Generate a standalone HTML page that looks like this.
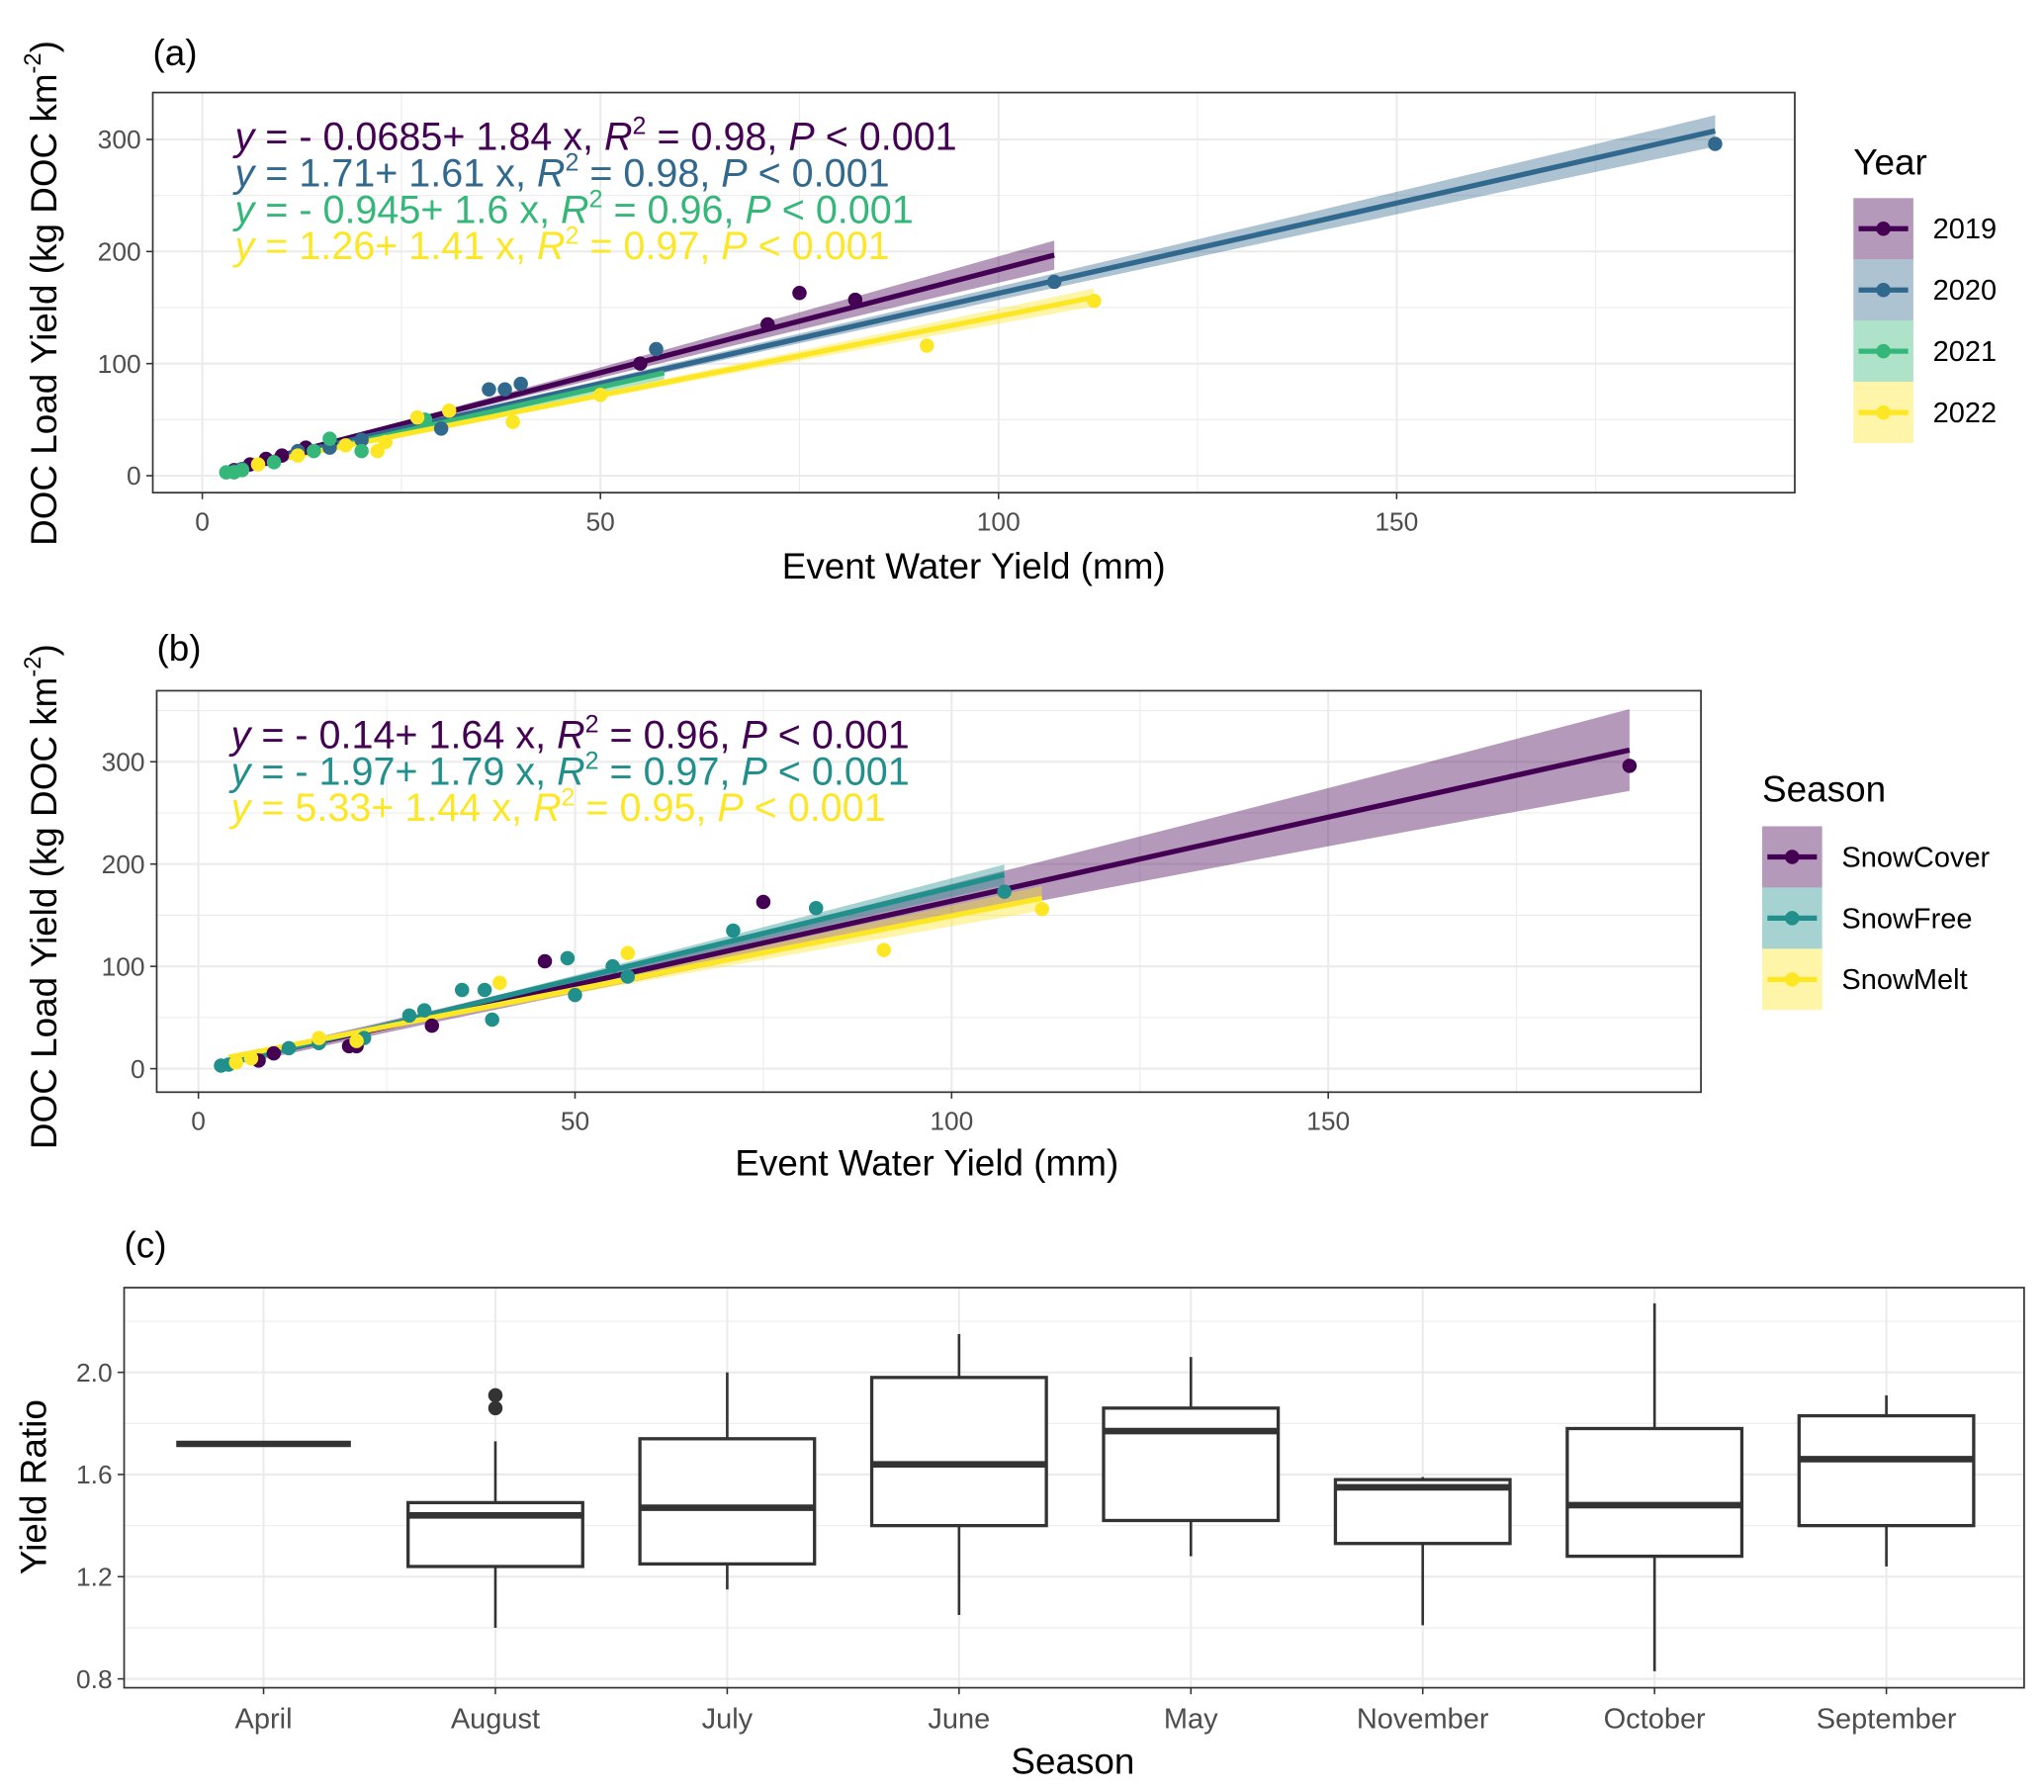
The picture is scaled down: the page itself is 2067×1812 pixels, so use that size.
<!DOCTYPE html>
<html><head><meta charset="utf-8"><style>
html,body{margin:0;padding:0;background:#fff}
svg{display:block;font-family:"Liberation Sans",Arial,sans-serif}
</style></head><body>
<svg id="fig" width="2067" height="1812" viewBox="0 0 1568 1375" xmlns="http://www.w3.org/2000/svg"></svg>
<script>
// ---------- data ----------
const yearNames = ['2019','2020','2021','2022'];
const yearColors = ['#440154','#31688E','#35B779','#FDE725'];
const yearIntercepts = [-0.0685, 1.71, -0.945, 1.26];
const yearSlopes = [1.84, 1.61, 1.6, 1.41];
const yearRanges = [[5,107],[4,190],[3,58],[5,112]];
const yearBand = [13, 14, 6, 8];
const yearEq = ['y = - 0.0685+ 1.84 x, |R2| = 0.98, P < 0.001','y = 1.71+ 1.61 x, |R2| = 0.98, P < 0.001','y = - 0.945+ 1.6 x, |R2| = 0.96, P < 0.001','y = 1.26+ 1.41 x, |R2| = 0.97, P < 0.001'];
const pts2019 = [[75,163],[82,157],[71,135],[55,100],[10,18],[13,25],[8,15],[6,10],[4,5],[16,28]];
const pts2020 = [[190,296],[107,173],[57,113],[40,82],[36,77],[38,77],[30,42],[16,25],[5,6],[4,4],[12,22],[20,32]];
const pts2021 = [[4,3],[16,33],[20,22],[5,5],[9,12],[3,3],[14,22],[28,50]];
const pts2022 = [[112,156],[91,116],[39,48],[50,72],[27,52],[31,58],[22,22],[23,30],[7,10],[12,18],[18,27]];
const seasonNames = ['SnowCover','SnowFree','SnowMelt'];
const seasonColors = ['#440154','#21908C','#FDE725'];
const seasonIntercepts = [-0.14, -1.97, 5.33];
const seasonSlopes = [1.64, 1.79, 1.44];
const seasonRanges = [[8,190],[3,107],[4,112]];
const seasonBand = [40, 10, 12];
const seasonEq = ['y = - 0.14+ 1.64 x, |R2| = 0.96, P < 0.001','y = - 1.97+ 1.79 x, |R2| = 0.97, P < 0.001','y = 5.33+ 1.44 x, |R2| = 0.95, P < 0.001'];
const ptsCover = [[190,296],[75,163],[46,105],[31,42],[20,22],[21,22],[10,15],[8,8]];
const ptsFree = [[82,157],[107,173],[71,135],[49,108],[55,100],[50,72],[39,48],[35,77],[38,77],[30,57],[28,52],[22,30],[16,25],[12,20],[4,4],[3,3],[57,90]];
const ptsMelt = [[112,156],[91,116],[57,113],[40,84],[21,27],[16,30],[7,10],[5,6]];
const xTicks = [0,50,100,150];
const yTicks = [0,100,200,300];
const months = ['April','August','July','June','May','November','October','September'];
const boxLow = [1.72,1.00,1.15,1.05,1.28,1.01,0.83,1.24];
const boxQ1 = [1.72,1.24,1.25,1.40,1.42,1.33,1.28,1.40];
const boxMed = [1.72,1.44,1.47,1.64,1.77,1.55,1.48,1.66];
const boxQ3 = [1.72,1.49,1.74,1.98,1.86,1.58,1.78,1.83];
const boxHigh = [1.72,1.73,2.00,2.15,2.06,1.59,2.27,1.91];
const boxOutliers = [[],[1.86,1.91],[],[],[],[],[],[]];
const ratioTicks = [0.8,1.2,1.6,2.0];

// ---------- helpers ----------
const NS='http://www.w3.org/2000/svg';
const svg=document.getElementById('fig');
function mk(tag,attrs,parent){const e=document.createElementNS(NS,tag);for(const k in attrs)e.setAttribute(k,attrs[k]);(parent||svg).appendChild(e);return e;}
function txt(s,x,y,size,fill,anchor,parent){const t=mk('text',{x:x,y:y,'font-size':size,fill:fill,'text-anchor':anchor||'start'},parent);t.textContent=s;return t;}

function scatterPanel(P){
  const g=mk('g',{});
  
  
  const X=v=>P.x0+v*P.sx, Y=v=>P.y0-v*P.sy;
  const bg=mk('rect',{x:P.L,y:P.T,width:P.R-P.L,height:P.B-P.T,fill:'#fff'},g);
  
  
  for(let v=-25;v<=200;v+=25){const xx=X(v);if(xx<P.L||xx>P.R)continue;const l=mk('line',{x1:xx,x2:xx,y1:P.T,y2:P.B,stroke:'#ebebeb','stroke-width':v%50===0?1.6:0.8},g);}
  for(let v=-50;v<=350;v+=50){const yy=Y(v);if(yy<P.T||yy>P.B)continue;const l=mk('line',{x1:P.L,x2:P.R,y1:yy,y2:yy,stroke:'#ebebeb','stroke-width':v%100===0?1.6:0.8},g);}
  for(let i=0;i<P.names.length;i++){
    const [a,b]=P.ranges[i];const f=v=>P.ic[i]+P.sl[i]*v;
    const hw=v=>{const t=(v-a)/(b-a);return P.band[i]*(0.12+0.88*Math.pow(t,1.6));};
    const n=30;let up=[],dn=[];
    for(let k=0;k<=n;k++){const v=a+(b-a)*k/n;up.push(X(v)+','+Y(f(v)+hw(v)));dn.unshift(X(v)+','+Y(f(v)-hw(v)));}
    const r=mk('polygon',{points:up.concat(dn).join(' '),fill:P.colors[i],'fill-opacity':0.4},g);
    
    
  }
  for(let i=0;i<P.names.length;i++){
    const [a,b]=P.ranges[i];const f=v=>P.ic[i]+P.sl[i]*v;
    const l=mk('line',{x1:X(a),y1:Y(f(a)),x2:X(b),y2:Y(f(b)),stroke:P.colors[i],'stroke-width':4},g);
    
    
  }
  for(let i=0;i<P.names.length;i++){
    for(const p of P.pts[i]){const c=mk('circle',{cx:X(p[0]),cy:Y(p[1]),r:5.5,fill:P.colors[i]},g);
      
      }
  }
  const fr=mk('rect',{x:P.L,y:P.T,width:P.R-P.L,height:P.B-P.T,fill:'none',stroke:'#333','stroke-width':1.3},g);
  
  for(const v of xTicks){mk('line',{x1:X(v),x2:X(v),y1:P.B,y2:P.B+5,stroke:'#333','stroke-width':1.2},g);const t=txt(String(v),X(v),P.B+29,20,'#4d4d4d','middle',g);}
  for(const v of yTicks){mk('line',{x1:P.L-5,x2:P.L,y1:Y(v),y2:Y(v),stroke:'#333','stroke-width':1.2},g);const t=txt(String(v),P.L-9,Y(v)+7,20,'#4d4d4d','end',g);}
  for(let i=0;i<P.eq.length;i++){
    const parts=P.eq[i].split('|');
    const t=mk('text',{x:P.eqX,y:P.eqY+i*28,'font-size':30,fill:P.colors[i]},g);
    
    
    const segs=[];
    parts.forEach(s=>{
      if(s==='R2'){segs.push(['R',true,false]);segs.push(['2',false,true]);}
      else{ s.split(/(y|P)/).forEach(q=>{if(q==='y'||q==='P')segs.push([q,true,false]);else if(q)segs.push([q,false,false]);}); }
    });
    let prevSup=false;
    segs.forEach(s=>{const ts=mk('tspan',{},t);ts.textContent=s[0];if(s[1])ts.setAttribute('font-style','italic');
      if(s[2]){ts.setAttribute('font-size',19);ts.setAttribute('dy',-12);prevSup=true;}
      else if(prevSup){ts.setAttribute('dy',12);prevSup=false;}});
  }
  const pl=txt(P.label,P.L,P.labY,28,'#000','start',g);
  const xt=txt('Event Water Yield (mm)',P.xtX,P.xtY,28,'#000','middle',g);
  const yt=mk('text',{x:0,y:0,'font-size':28,'text-anchor':'middle',transform:'translate('+P.ytX+','+P.ytY+') rotate(-90)'},g);
  
  yt.innerHTML='DOC Load Yield (kg DOC km<tspan font-size="18" dy="-12">-2</tspan><tspan dy="12">)</tspan>';
  const lt=txt(P.legTitle,P.legX,P.legTY,28,'#000','start',g);
  for(let i=0;i<P.names.length;i++){
    const y0=P.legY0+i*47;
    const k=mk('g',{},g);
    mk('rect',{x:P.legX,y:y0,width:46,height:47,fill:P.colors[i],'fill-opacity':0.4},k);
    mk('line',{x1:P.legX+4,x2:P.legX+42,y1:y0+23.5,y2:y0+23.5,stroke:P.colors[i],'stroke-width':4},k);
    mk('circle',{cx:P.legX+23,cy:y0+23.5,r:5.5,fill:P.colors[i]},k);
    txt(P.names[i],P.legX+61,y0+31,22,'#000','start',k);
  }
}

scatterPanel({name:'panel-a-year',L:117,R:1377,T:71,B:378,x0:155,sx:6.11,y0:365,sy:0.86,names:yearNames,colors:yearColors,ic:yearIntercepts,sl:yearSlopes,ranges:yearRanges,band:yearBand,pts:[pts2019,pts2020,pts2021,pts2022],eq:yearEq,eqX:180,eqY:115,label:'(a)',labY:50,xtX:747,xtY:444,ytX:43,ytY:225,legTitle:'Year',legX:1422,legTY:134,legY0:152});
scatterPanel({name:'panel-b-season',L:120,R:1305,T:530,B:838,x0:152,sx:5.78,y0:820,sy:0.785,names:seasonNames,colors:seasonColors,ic:seasonIntercepts,sl:seasonSlopes,ranges:seasonRanges,band:seasonBand,pts:[ptsCover,ptsFree,ptsMelt],eq:seasonEq,eqX:177,eqY:574,label:'(b)',labY:507,xtX:711,xtY:902,ytX:43,ytY:688,legTitle:'Season',legX:1352,legTY:615,legY0:634});

// ---------- panel c ----------
(function(){
  const L=95,R=1553,T=988,B=1295;
  const Y=v=>1053+(2.0-v)*196;
  const X=i=>202+i*177.9;
  const g=mk('g',{});
  for(let v=0.8;v<=2.21;v+=0.2){const yy=Y(v);const l=mk('line',{x1:L,x2:R,y1:yy,y2:yy,stroke:'#ebebeb','stroke-width':(Math.round(v*10)%4===0)?1.6:0.8},g);}
  months.forEach((m,i)=>{const l=mk('line',{x1:X(i),x2:X(i),y1:T,y2:B,stroke:'#ebebeb','stroke-width':1.6},g);});
  months.forEach((m,i)=>{
    const b=mk('g',{},g);
    const x=X(i),w=67;
    mk('line',{x1:x,x2:x,y1:Y(boxHigh[i]),y2:Y(boxQ3[i]),stroke:'#333','stroke-width':2},b);
    mk('line',{x1:x,x2:x,y1:Y(boxQ1[i]),y2:Y(boxLow[i]),stroke:'#333','stroke-width':2},b);
    mk('rect',{x:x-w,y:Y(boxQ3[i]),width:2*w,height:Math.max(0,Y(boxQ1[i])-Y(boxQ3[i])),fill:'#fff',stroke:'#333','stroke-width':2.5},b);
    mk('line',{x1:x-w,x2:x+w,y1:Y(boxMed[i]),y2:Y(boxMed[i]),stroke:'#333','stroke-width':5},b);
    boxOutliers[i].forEach(o=>mk('circle',{cx:x,cy:Y(o),r:5.5,fill:'#333'},b));
    mk('line',{x1:x,x2:x,y1:B,y2:B+5,stroke:'#333','stroke-width':1.2},g);
    const t=txt(m,x,B+31,22,'#4d4d4d','middle',g);
  });
  const fr=mk('rect',{x:L,y:T,width:R-L,height:B-T,fill:'none',stroke:'#333','stroke-width':1.3},g);
  ratioTicks.forEach(v=>{mk('line',{x1:L-5,x2:L,y1:Y(v),y2:Y(v),stroke:'#333','stroke-width':1.2},g);const t=txt(v.toFixed(1),L-9,Y(v)+7,20,'#4d4d4d','end',g);});
  const pl=txt('(c)',L,965,28,'#000','start',g);
  const xt=txt('Season',823,1361,28,'#000','middle',g);
  const yt=mk('text',{x:0,y:0,'font-size':28,'text-anchor':'middle',transform:'translate(35,1141) rotate(-90)'},g);yt.textContent='Yield Ratio';
  
})();
</script>
</body></html>
